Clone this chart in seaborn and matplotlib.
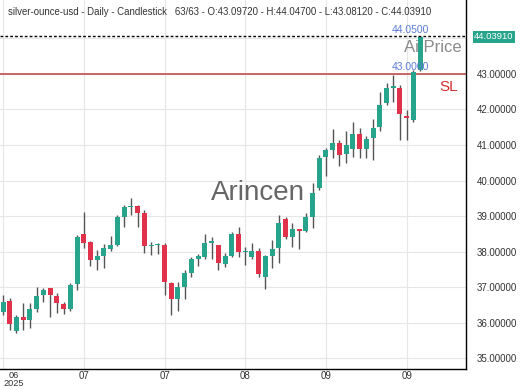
import pandas as pd
import seaborn as sns
import matplotlib.pyplot as plt
import matplotlib.transforms as mtransforms

# candle data
opens = [36.30, 36.61, 35.76, 36.15, 36.07, 36.38, 36.77, 36.97, 36.75, 36.52,
         36.38, 37.08, 38.49, 38.27, 37.76, 37.87, 38.07, 38.18, 38.97, 39.25,
         39.28, 39.08, 38.15, 38.18, 38.18, 37.11, 36.66, 37.00, 37.39, 37.79,
         37.85, 38.24, 38.18, 37.65, 37.87, 38.49, 37.99, 37.85, 38.01, 37.28,
         37.87, 38.10, 38.92, 38.41, 38.63, 38.58, 38.97, 39.79, 40.66, 40.86,
         41.06, 40.75, 40.89, 41.31, 40.89, 41.20, 41.51, 42.18, 42.61, 42.61,
         41.82, 41.70, 43.0972]
highs = [36.77, 36.69, 36.21, 36.55, 36.55, 37.00, 36.97, 36.99, 36.83, 36.58,
         37.11, 38.46, 39.11, 38.29, 38.04, 38.21, 38.44, 39.03, 39.31, 39.51,
         39.30, 39.17, 38.27, 38.24, 38.24, 37.14, 37.14, 37.48, 37.85, 37.93,
         38.49, 38.41, 38.20, 37.96, 38.55, 38.69, 38.13, 38.24, 38.10, 37.90,
         38.32, 39.03, 38.97, 38.80, 38.65, 39.08, 39.93, 40.72, 40.92, 41.45,
         41.14, 41.39, 41.65, 41.48, 41.25, 41.73, 42.49, 42.75, 42.97, 42.69,
         41.99, 43.11, 44.047]
lows = [36.21, 35.79, 35.72, 35.79, 35.85, 36.30, 36.58, 36.15, 36.27, 36.24,
        36.32, 36.92, 38.10, 37.59, 37.48, 37.53, 38.01, 38.15, 38.69, 39.03,
        38.69, 37.96, 37.90, 37.93, 36.77, 36.21, 36.32, 36.66, 37.28, 37.59,
        37.79, 37.79, 37.48, 37.56, 37.85, 37.85, 37.62, 37.79, 37.28, 36.94,
        37.54, 37.68, 38.35, 38.13, 38.07, 38.55, 38.66, 39.73, 40.13, 40.63,
        40.41, 40.49, 40.66, 40.63, 40.63, 40.58, 41.39, 42.13, 42.21, 41.14,
        41.14, 41.65, 43.0812]
closes = [36.58, 35.96, 36.15, 36.07, 36.38, 36.75, 36.92, 36.77, 36.55, 36.38,
          37.06, 38.41, 38.24, 37.76, 37.87, 38.10, 38.18, 38.97, 39.25, 39.28,
          39.08, 38.15, 38.18, 38.21, 37.14, 36.66, 37.00, 37.39, 37.79, 37.87,
          38.24, 38.30, 37.68, 37.87, 38.49, 37.99, 38.01, 38.01, 37.37, 37.87,
          38.07, 38.80, 38.41, 38.63, 38.58, 38.97, 39.65, 40.63, 40.86, 41.06,
          40.72, 41.00, 41.31, 40.89, 41.17, 41.48, 42.13, 42.61, 42.64, 41.87,
          41.76, 43.06, 44.0391]

tick_pos = [0, 12, 24, 36, 48, 60]
tick_labels = ["06\n2025", "07", "07", "08", "09", "09"]
price_ticks = [35, 36, 37, 38, 39, 40, 41, 42, 43]

target_price = 44.05
stop_loss = 43.0
last_close = 44.0391

df = pd.DataFrame({"open": opens, "high": highs, "low": lows, "close": closes})
df["idx"] = range(len(df))

sns.set_style("white")
plt.rcParams["font.family"] = ["Liberation Sans", "DejaVu Sans"]

UP = "#26a48c"
DOWN = "#e0334b"

fig = plt.figure(figsize=(5.2, 3.9), dpi=100)
ax = fig.add_axes([0, 0.0538, 0.896, 0.9462])

# grid
for p in price_ticks + [44]:
    ax.axhline(p, color="#e6e6e6", lw=0.8, zorder=0)
for t in tick_pos:
    ax.axvline(t, color="#e6e6e6", lw=0.8, zorder=0)

# candles
up = df["close"] >= df["open"]
colors = [UP if u else DOWN for u in up]
ax.vlines(df["idx"], df["low"], df["high"], color="#555555", lw=1.0, zorder=2)
body = (df["close"] - df["open"]).abs().clip(lower=0.04)
bottom = df[["open", "close"]].min(axis=1)
ax.bar(df["idx"], body, bottom=bottom, width=0.74, color=colors, lw=0, zorder=3)

# levels
ax.axhline(target_price, color="black", lw=1, ls=(0, (2, 1.5)), zorder=4)
ax.axhline(stop_loss, color="#c0504d", lw=1.2, zorder=1)
ax.text(60.5, target_price + 0.05, "44.0500", color="#5b7bd5", fontsize=7.5,
        ha="center", va="bottom", zorder=5)
ax.text(60.5, stop_loss + 0.05, "43.0000", color="#5b7bd5", fontsize=7.5,
        ha="center", va="bottom", zorder=5)
ax.text(59.6, 43.73, "Ai Price", color="#8a8a8a", fontsize=12,
        ha="left", va="center", zorder=1)
ax.text(64.9, 42.63, "SL", color="#d32f2f", fontsize=11,
        ha="left", va="center", zorder=5)

# watermark
ax.text(37.9, 39.65, "Arincen", color="#555555", fontsize=20,
        ha="center", va="center", alpha=0.9, zorder=1)

# header
ax.text(0.017, 0.967,
        "silver-ounce-usd - Daily - Candlestick   63/63 - O:43.09720 - H:44.04700 - L:43.08120 - C:44.03910",
        transform=ax.transAxes, fontsize=6.95, color="#333333", ha="left", va="center")

# last price tag on the axis
trans = mtransforms.blended_transform_factory(ax.transAxes, ax.transData)
ax.text(1.018, last_close, "44.03910", transform=trans, fontsize=6.8, color="white",
        ha="left", va="center", zorder=6, clip_on=False,
        bbox=dict(boxstyle="square,pad=0.15", fc="#26a48c", ec="none"))

ax.set_xlim(-0.45, 68.8)
ax.set_ylim(34.70, 45.075)
ax.set_xticks(tick_pos)
ax.set_xticklabels(tick_labels)
ax.set_yticks(price_ticks)
ax.set_yticklabels([f"{p:.5f}" for p in price_ticks])
ax.yaxis.tick_right()
ax.tick_params(axis="y", length=0, pad=8, labelsize=7, labelcolor="#333333")
ax.tick_params(axis="x", length=1.5, pad=0, labelsize=7, labelcolor="#333333")
first = ax.get_xticklabels()[0]
first.set_ha("left")
first.set_multialignment("center")
first.set_linespacing(0.8)
first.set_fontsize(6.6)

for s in ["top", "left"]:
    ax.spines[s].set_visible(False)
for s in ["right", "bottom"]:
    ax.spines[s].set_color("black")
    ax.spines[s].set_linewidth(1)

fig.savefig("out.png", dpi=100)
